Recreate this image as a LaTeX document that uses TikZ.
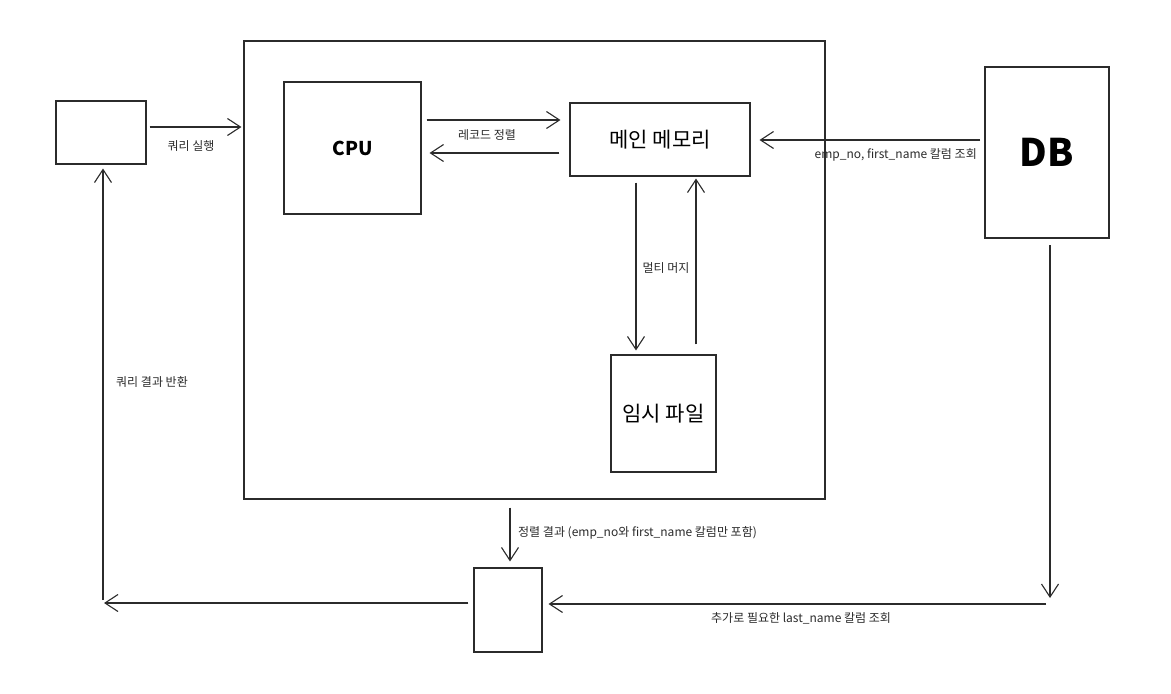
\documentclass[tikz,border=0pt]{standalone}
\usepackage{fontspec}
\setmainfont{Noto Sans CJK KR}
\usetikzlibrary{arrows.meta}
\definecolor{ink}{HTML}{2B2B2B}
\tikzset{
  box/.style={draw=ink, line width=1.1pt, inner sep=0pt, fill=white},
  arr/.style={draw=ink, line width=1.1pt, -{Straight Barb[length=13pt,width=17pt,line width=1.1pt]}},
  ln/.style={draw=ink, line width=1.1pt},
  lbl/.style={text=ink, font=\fontsize{12}{14}\selectfont, inner sep=0pt},
}
\begin{document}
\begin{tikzpicture}[x=1pt,y=-1pt]
\useasboundingbox[fill=white] (0,0) rectangle (1171,694);
% boxes
\node[box, minimum width=581pt, minimum height=458pt] (big) at (534.5,270) {};
\node[box, minimum width=90pt, minimum height=63pt] (client) at (101,132.5) {};
\node[box, minimum width=137pt, minimum height=132pt, font=\fontsize{19}{21}\selectfont\bfseries] (cpu) at (352.5,148) {CPU};
\node[box, minimum width=180pt, minimum height=73pt, font=\fontsize{21}{23}\selectfont] (mm) at (660,139.5) {메인 메모리};
\node[box, minimum width=124pt, minimum height=171pt, font=\fontsize{38}{40}\selectfont\bfseries] (db) at (1047,152.5) {DB};
\node[box, minimum width=105pt, minimum height=117pt, font=\fontsize{21}{23}\selectfont] (tmp) at (663.5,413.5) {임시 파일};
\node[box, minimum width=68pt, minimum height=84pt] (res) at (508,610) {};
% helper coordinates
\coordinate (c1) at ([shift={(3,-5.5)}]client.east);
\coordinate (c2) at ([shift={(5,-28)}]cpu.east);
\coordinate (c3) at ([shift={(-10,13.5)}]mm.west);
\coordinate (c4) at (980,140);
\coordinate (c5) at ([shift={(-24,6)}]mm.south);
\coordinate (c6) at ([shift={(32.5,-10)}]tmp.north);
\coordinate (c7) at ([shift={(-24.5,8)}]big.south);
\coordinate (c8) at (1050,245);
\coordinate (c9) at (1050,598);
\coordinate (c10) at (1046,604);
\coordinate (c11) at ([shift={(-5,-7)}]res.west);
\coordinate (c12) at (104,603);
\coordinate (c13) at (103,600);
% connectors
\draw[arr] (c1) -- ([xshift=-2pt]big.west |- c1);
\draw[arr] (c2) -- ([xshift=-9pt]mm.west |- c2);
\draw[arr] (c3) -- ([xshift=8pt]cpu.east |- c3);
\draw[arr] (c4) -- ([xshift=9pt]mm.east |- c4);
\draw[arr] (c5) -- ([yshift=4pt]tmp.north -| c5);
\draw[arr] (c6) -- ([yshift=-2pt]mm.south -| c6);
\draw[arr] (c7) -- ([yshift=6pt]res.north -| c7);
\draw[arr] (c8) -- (c9);
\draw[arr] (c10) -- ([xshift=6pt]res.east |- c10);
\draw[arr] (c11) -- (c12);
\draw[arr] (c13) -- ([yshift=-4pt]client.south -| c13);
% labels
\node[lbl] (l1) at (191,146) {쿼리 실행};
\node[lbl] (l2) at (487,135) {레코드 정렬};
\node[lbl, anchor=east] (l3) at (977,155) {emp\_no, first\_name 칼럼 조회};
\node[lbl] (l4) at (666,268) {멀티 머지};
\node[lbl, anchor=west] (l5) at (518,533) {정렬 결과 (emp\_no와 first\_name 칼럼만 포함)};
\node[lbl, anchor=west] (l6) at (711,618) {추가로 필요한 last\_name 칼럼 조회};
\node[lbl] (l7) at (152,382) {쿼리 결과 반환};
\end{tikzpicture}
\end{document}
